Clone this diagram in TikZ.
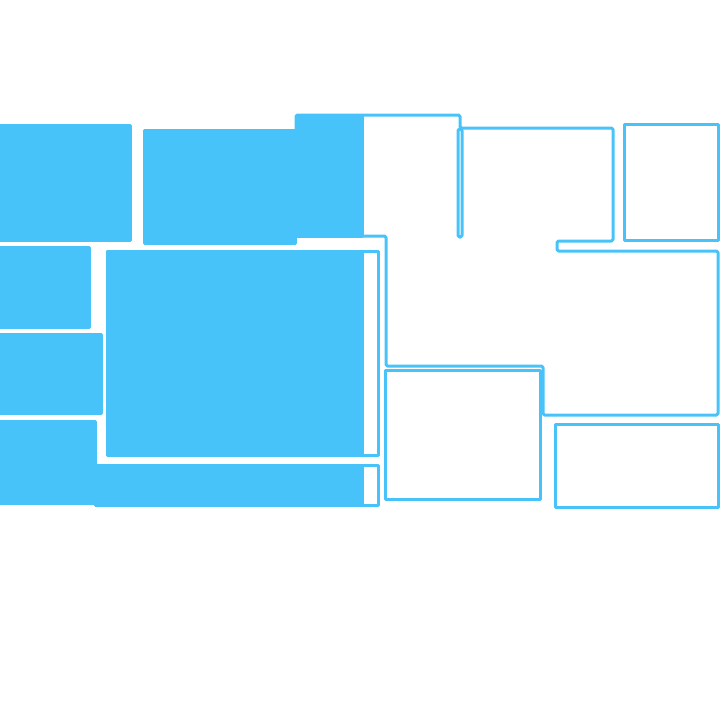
\documentclass[tikz,border=0pt]{standalone}
\usepackage{xcolor}
\usepackage{tikz}
\definecolor{planblue}{RGB}{72,195,250}

\begin{document}
\begin{tikzpicture}[x=1pt, y=-1pt, line join=round,
    room/.style={draw=planblue, line width=3pt},
    filled/.style={fill=planblue, draw=planblue, line width=3pt}]
      \useasboundingbox (0, 0) rectangle (720, 720);

      % filled rooms
      \path[filled] (0, 125) rectangle (130, 240);
      \path[filled] (144, 130) rectangle (295, 243);
      \path[filled] (0, 247) rectangle (89, 327);
      \path[filled] (0, 334) rectangle (101.5, 413);
      \path[filled] (0, 421) -- (95, 421) -- (95, 465) -- (362, 465)
        -- (362, 505) -- (95, 505) -- (95, 503) -- (0, 503) -- cycle;
      \path[filled] (107, 251) rectangle (362, 455);
      \path[filled] (296, 115) rectangle (362, 236);

      % outlines
      \draw[room] (95, 465) rectangle (378, 505);
      \draw[room] (107, 251) rectangle (378, 455);
      \draw[room, rounded corners=1.5pt] (296, 115) -- (460, 115) -- (460, 128)
        -- (613, 128) -- (613, 241) -- (557, 241) -- (557, 251) -- (718, 251)
        -- (718, 415) -- (543, 415) -- (543, 366) -- (386, 366) -- (386, 236)
        -- (296, 236) -- cycle;
      \draw[room, rounded corners=1.5pt] (458, 129) rectangle (462, 237);
      \draw[room] (624, 124) rectangle (718, 240);
      \draw[room] (385, 370) rectangle (540, 499);
      \draw[room] (555, 424) rectangle (718, 507);
\end{tikzpicture}
\end{document}
